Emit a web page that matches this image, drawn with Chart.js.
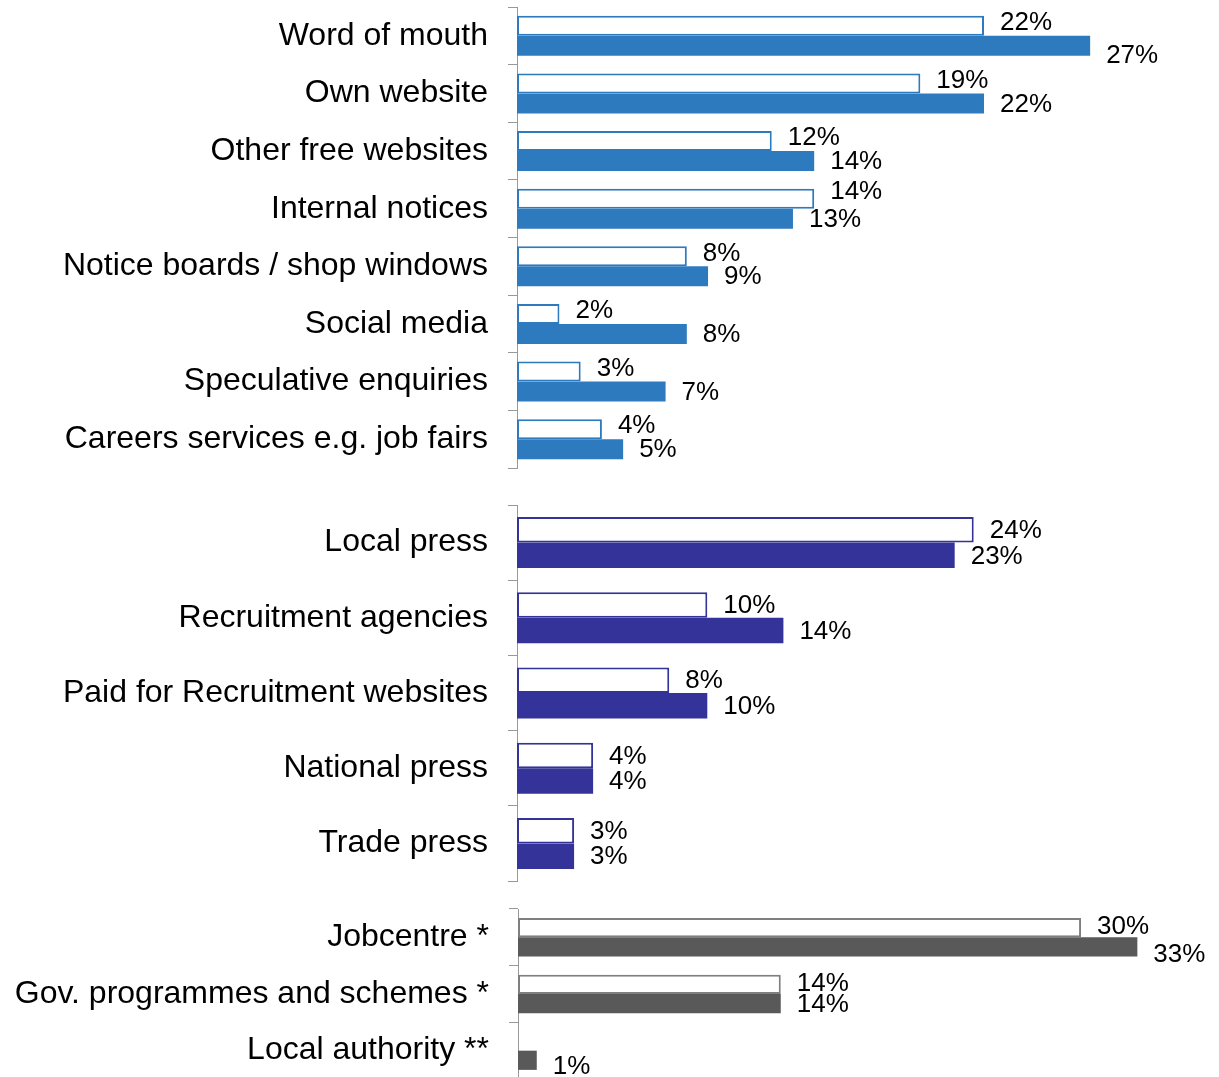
<!DOCTYPE html>
<html>
<head>
<meta charset="utf-8">
<title>Recruitment channels</title>
<script src="https://cdn.jsdelivr.net/npm/chart.js@4.4.0/dist/chart.umd.min.js"></script>
<style>
    html, body { margin: 0; padding: 0; background: #fff; width: 1219px; height: 1077px; overflow: hidden; }
    .panel { position: absolute; left: 0; }
</style>
</head>
<body>
<canvas id="freeChart" class="panel" width="1219" height="480" style="top:0px"></canvas>
<canvas id="paidChart" class="panel" width="1219" height="400" style="top:490px"></canvas>
<canvas id="publicChart" class="panel" width="1219" height="190" style="top:895px"></canvas>
<script>
// free / low-cost channels
const freeLabels = ['Word of mouth', 'Own website', 'Other free websites', 'Internal notices',
    'Notice boards / shop windows', 'Social media', 'Speculative enquiries', 'Careers services e.g. job fairs'];
const freeOutlined = [22, 19, 12, 14, 8, 2, 3, 4];
const freeFilled = [27, 22, 14, 13, 9, 8, 7, 5];

// paid channels
const paidLabels = ['Local press', 'Recruitment agencies', 'Paid for Recruitment websites', 'National press', 'Trade press'];
const paidOutlined = [24, 10, 8, 4, 3];
const paidFilled = [23, 14, 10, 4, 3];

// public sector channels
const publicLabels = ['Jobcentre *', 'Gov. programmes and schemes *', 'Local authority **'];
const publicOutlined = [30, 14, null];
const publicFilled = [33, 14, 1];

const FONT = '"Liberation Sans", Arial, Helvetica, sans-serif';
const AXIS_GREY = '#999999';

// writes "NN%" just past the end of every bar
const barLabels = {
    id: 'barLabels',
    afterDatasetsDraw(chart, args, opts) {
        const ctx = chart.ctx;
        const shift = opts.shift || [0, 0];
        const nudge = opts.nudge || {};
        ctx.save();
        ctx.font = '26px ' + FONT;
        ctx.fillStyle = '#000';
        ctx.textAlign = 'left';
        ctx.textBaseline = 'middle';
        chart.data.datasets.forEach((ds, di) => {
            chart.getDatasetMeta(di).data.forEach((bar, i) => {
                const v = ds.data[i];
                if (v === null || v === undefined) return;
                const dy = shift[di] + (nudge[di + ':' + i] || 0);
                ctx.fillText(v + '%', bar.x + 16, bar.y + dy);
            });
        });
        ctx.restore();
    }
};

function makePanel(id, cfg) {
    const ctx = document.getElementById(id).getContext('2d');
    return new Chart(ctx, {
        type: 'bar',
        data: {
            labels: cfg.labels,
            datasets: [
                {
                    data: cfg.outlined,
                    backgroundColor: '#fff',
                    borderColor: cfg.outline || cfg.colour,
                    borderWidth: 2,
                    borderSkipped: false
                },
                {
                    data: cfg.filled,
                    backgroundColor: cfg.colour,
                    borderWidth: 0
                }
            ]
        },
        options: {
            indexAxis: 'y',
            responsive: false,
            animation: false,
            datasets: { bar: { categoryPercentage: cfg.band, barPercentage: 1.0 } },
            layout: { padding: { top: cfg.padTop, bottom: cfg.padBottom, left: 0, right: 0 } },
            scales: {
                x: { display: false, min: 0, max: cfg.xMax },
                y: {
                    offset: true,
                    grid: { drawOnChartArea: false, drawTicks: true, tickLength: 9, offset: true, color: AXIS_GREY },
                    border: { display: true, color: AXIS_GREY, width: 1 },
                    ticks: { color: '#000', padding: 20, font: { family: FONT, size: 32 } },
                    afterFit(scale) {
                        scale.width = cfg.edge;
                        scale.paddingTop = 0;
                        scale.paddingBottom = 0;
                    }
                }
            },
            plugins: {
                legend: { display: false },
                tooltip: { enabled: false },
                barLabels: { shift: cfg.shift, nudge: cfg.nudge }
            }
        },
        plugins: [barLabels]
    });
}

makePanel('freeChart', {
    labels: freeLabels, outlined: freeOutlined, filled: freeFilled,
    colour: '#2e7abe', xMax: 33.07, edge: 517, band: 0.693,
    padTop: 7, padBottom: 12,
    shift: [-3, 1],
    nudge: { '1:0': 9, '0:3': -4 }
});

makePanel('paidChart', {
    labels: paidLabels, outlined: paidOutlined, filled: paidFilled,
    colour: '#333399', xMax: 36.89, edge: 517, band: 0.678,
    padTop: 15, padBottom: 9,
    shift: [1, 1]
});

makePanel('publicChart', {
    labels: publicLabels, outlined: publicOutlined, filled: publicFilled,
    colour: '#595959', outline: '#7f7f7f', xMax: 37.35, edge: 518, band: 0.678,
    padTop: 14, padBottom: 6,
    shift: [-1, 1],
    nudge: { '1:0': 7, '1:2': 6 }
});
</script>
</body>
</html>
